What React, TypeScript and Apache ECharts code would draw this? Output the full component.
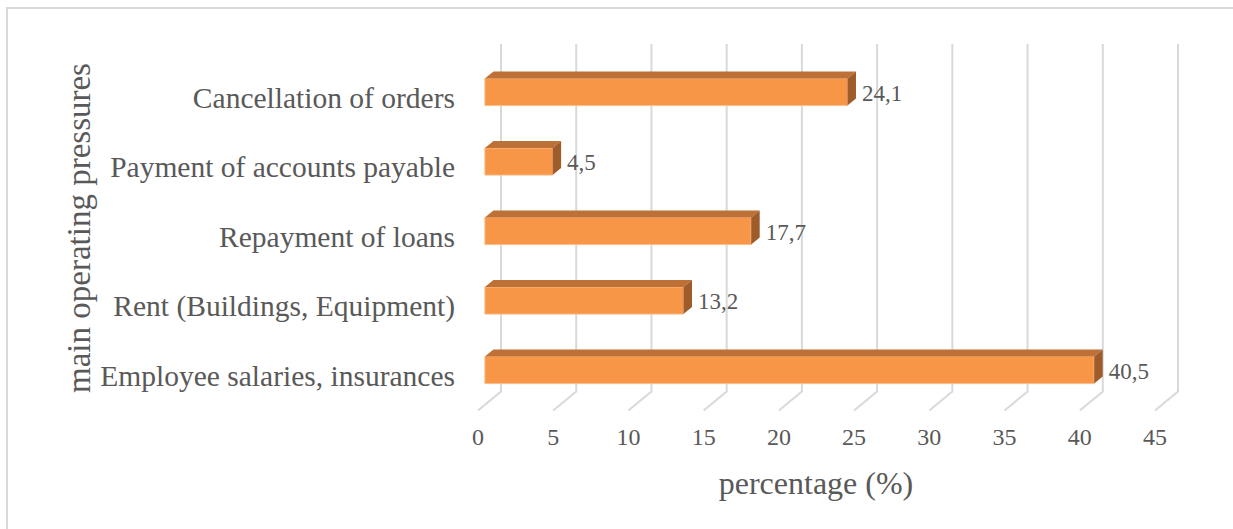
import React, { useEffect, useRef } from "react";
import * as echarts from "echarts";

// Survey results: share of firms reporting each operating pressure
const categories = [
  "Employee salaries, insurances",
  "Rent (Buildings, Equipment)",
  "Repayment of loans",
  "Payment of accounts payable",
  "Cancellation of orders",
];
const values = [40.5, 13.2, 17.7, 4.5, 24.1];
const xTicks = [0, 5, 10, 15, 20, 25, 30, 35, 40, 45];

const xTitle = "percentage (%)";
const yTitle = "main operating pressures";

// Pseudo-3D depth vector (front floor edge -> back wall)
const DX = 23;
const DY = -19;
const FONT = "'Liberation Serif', 'Times New Roman', serif";
const TEXT = "#595959";

const fmt = (v: number) => v.toFixed(1).replace(".", ",");

export default function App() {
  const ref = useRef<HTMLDivElement>(null);

  useEffect(() => {
    if (!ref.current) return;
    const chart = echarts.init(ref.current, undefined, { renderer: "svg" });

    const option: any = {
      animation: false,
      backgroundColor: "#ffffff",
      grid: { left: 478, top: 63, width: 677, height: 347.5 },
      xAxis: {
        type: "value",
        min: 0,
        max: 45,
        interval: 5,
        axisLine: { show: false },
        axisTick: { show: false },
        splitLine: { show: false },
        axisLabel: {
          margin: 14,
          fontSize: 24,
          color: TEXT,
          fontFamily: FONT,
        },
      },
      yAxis: {
        type: "category",
        data: categories,
        axisLine: { show: false },
        axisTick: { show: false },
        splitLine: { show: false },
        axisLabel: {
          margin: 23,
          fontSize: 29.5,
          color: TEXT,
          fontFamily: FONT,
        },
      },
      graphic: [
        {
          type: "rect",
          shape: { x: 7, y: 8, width: 1400, height: 700 },
          style: { fill: "none", stroke: "#d9d9d9", lineWidth: 2 },
          silent: true,
        },
        {
          type: "text",
          x: 79,
          y: 228,
          rotation: Math.PI / 2,
          style: {
            text: yTitle,
            fontSize: 33,
            fontFamily: FONT,
            fill: TEXT,
            align: "center",
            verticalAlign: "middle",
          },
        },
        {
          type: "text",
          x: 816,
          y: 483,
          style: {
            text: xTitle,
            fontSize: 32,
            fontFamily: FONT,
            fill: TEXT,
            align: "center",
            verticalAlign: "middle",
          },
        },
      ],
      series: [
        {
          // back-wall gridlines with their floor segments
          type: "custom",
          clip: false,
          silent: true,
          z: 1,
          encode: { x: 0, y: 1 },
          data: xTicks.map((t) => [t, 0]),
          renderItem: (params: any, api: any) => {
            const cs = params.coordSys;
            const x = api.coord([api.value(0), 0])[0];
            const bottom = cs.y + cs.height;
            return {
              type: "polyline",
              shape: {
                points: [
                  [x + DX, cs.y + DY],
                  [x + DX, bottom + DY],
                  [x, bottom],
                ],
              },
              style: { stroke: "#d9d9d9", lineWidth: 2, fill: "none" },
            };
          },
        },
        {
          // 3D bars: front face, top face, side face and value label
          type: "custom",
          clip: false,
          z: 2,
          encode: { x: 0, y: 1 },
          data: values.map((v, i) => [v, i]),
          renderItem: (params: any, api: any) => {
            const v = api.value(0);
            const idx = api.value(1);
            const p0 = api.coord([0, idx]);
            const p1 = api.coord([v, idx]);
            const band = api.size([0, 1])[1];
            const h = band * 0.39;
            const fx = 0.3 * DX;
            const fy = 0.3 * DY;
            const dx = 0.37 * DX;
            const dy = 0.37 * DY;
            const x0 = p0[0] + fx;
            const x1 = p1[0] + fx;
            const yTop = p0[1] + fy - h / 2;
            const yBot = yTop + h;
            return {
              type: "group",
              children: [
                {
                  type: "rect",
                  shape: { x: x0, y: yTop, width: x1 - x0, height: h },
                  style: { fill: "#f79646", stroke: "#fbbd8c", lineWidth: 1 },
                },
                {
                  type: "polygon",
                  shape: {
                    points: [
                      [x0, yTop],
                      [x1, yTop],
                      [x1 + dx, yTop + dy],
                      [x0 + dx, yTop + dy],
                    ],
                  },
                  style: { fill: "#bd7136" },
                },
                {
                  type: "polygon",
                  shape: {
                    points: [
                      [x1, yTop],
                      [x1 + dx, yTop + dy],
                      [x1 + dx, yBot + dy],
                      [x1, yBot],
                    ],
                  },
                  style: { fill: "#9e5c2a" },
                },
                {
                  type: "text",
                  x: x1 + dx + 6,
                  y: (yTop + yBot) / 2 + 1,
                  style: {
                    text: fmt(v),
                    fontSize: 23,
                    fontFamily: FONT,
                    fill: TEXT,
                    align: "left",
                    verticalAlign: "middle",
                  },
                },
              ],
            };
          },
        },
      ],
    };

    chart.setOption(option);
    return () => chart.dispose();
  }, []);

  return (
    <div
      ref={ref}
      style={{ position: "fixed", left: 0, top: 0, width: 1233, height: 529 }}
    />
  );
}
